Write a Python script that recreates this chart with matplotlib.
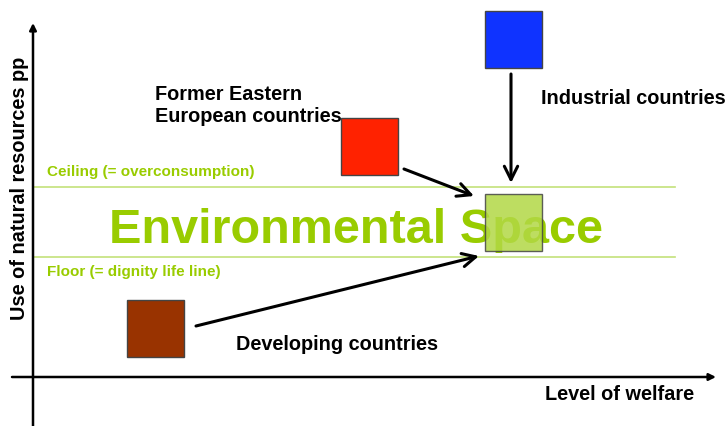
import matplotlib.pyplot as plt
from matplotlib.patches import Rectangle

plt.rcParams['font.family'] = ['Liberation Sans', 'DejaVu Sans']

# boxes: name, left, top, size, colour (pixel-like coordinates, y grows downward)
box_names = ["industrial", "eastern", "target", "developing"]
box_left = [485, 341, 485, 127]
box_top = [12, 119, 195, 301]
box_size = [57, 57, 57, 57]
box_colors = ["#0f33ff", "#ff2200", "#b2d845", "#993300"]

# arrows: start -> end
arrow_start = [(511, 75), (404, 170), (196, 327)]
arrow_end = [(511, 184), (474, 197), (479, 257)]

# limits of the environmental space
ceiling_y = 188
floor_y = 258

green = "#99cc00"

fig = plt.figure(figsize=(7.27, 4.27), dpi=100)
ax = fig.add_axes([0, 0, 1, 1])
ax.set_xlim(0, 727)
ax.set_ylim(427, 0)
ax.axis("off")

# axes with arrow heads
ax.annotate("", xy=(33, 24), xytext=(33, 427),
            arrowprops=dict(arrowstyle="-|>", lw=1.8, color="black",
                            mutation_scale=10, shrinkA=0, shrinkB=0))
ax.annotate("", xy=(716, 378), xytext=(12, 378),
            arrowprops=dict(arrowstyle="-|>", lw=1.8, color="black",
                            mutation_scale=10, shrinkA=0, shrinkB=0))

# ceiling and floor
ax.plot([33, 675], [ceiling_y, ceiling_y], color="#c3e27a", lw=1.2)
ax.plot([33, 675], [floor_y, floor_y], color="#c3e27a", lw=1.2)
ax.text(47, ceiling_y - 16, "Ceiling (= overconsumption)", color=green,
        fontsize=11, fontweight="bold", va="center", ha="left")
ax.text(47, floor_y + 14, "Floor (= dignity life line)", color=green,
        fontsize=11, fontweight="bold", va="center", ha="left")

ax.text(356, 243, "Environmental Space", color=green, fontsize=35,
        fontweight="bold", va="baseline", ha="center")

for name, l, t, s, c in zip(box_names, box_left, box_top, box_size, box_colors):
    alpha = 0.85 if name == "target" else 1.0
    ax.add_patch(Rectangle((l, t), s, s, facecolor=c, edgecolor="#444444",
                           lw=1.0, alpha=alpha, zorder=3))

for s, e in zip(arrow_start, arrow_end):
    ax.annotate("", xy=e, xytext=s,
                arrowprops=dict(arrowstyle="->", lw=2.2, color="black",
                                mutation_scale=24, shrinkA=0, shrinkB=0),
                zorder=4)

ax.text(541, 99, "Industrial countries", fontsize=14.3, fontweight="bold",
        va="center", ha="left")
ax.text(155, 105, "Former Eastern\nEuropean countries", fontsize=14.3,
        fontweight="bold", va="center", ha="left", linespacing=1.2)
ax.text(236, 345, "Developing countries", fontsize=14.3, fontweight="bold",
        va="center", ha="left")
ax.text(545, 395, "Level of welfare", fontsize=14.3, fontweight="bold",
        va="center", ha="left")
ax.text(20, 188, "Use of natural resources pp", fontsize=14.3,
        fontweight="bold", va="center", ha="center", rotation=90)

plt.savefig("out.png", dpi=100)
